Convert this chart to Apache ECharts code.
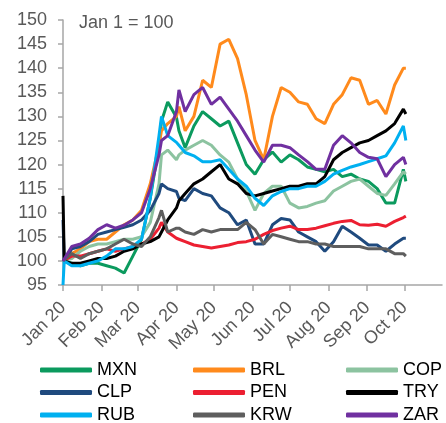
<!DOCTYPE html>
<html>
<head>
<meta charset="utf-8">
<script src="https://cdn.jsdelivr.net/npm/echarts@6/dist/echarts.min.js"></script>
<style>
  html, body { margin: 0; padding: 0; background: #fff; }
  #chart { width: 446px; height: 423px; }
</style>
</head>
<body>
<div id="chart"></div>
<script>
  // dates of the sampled points (Jan 1 = 100)
  const dates = [
    '2020-01-01', '2020-01-02',
    '2020-01-08', '2020-01-15', '2020-01-22', '2020-01-29',
    '2020-02-05', '2020-02-12', '2020-02-19', '2020-02-26',
    '2020-03-04', '2020-03-11', '2020-03-18', '2020-03-20', '2020-03-25',
    '2020-04-01', '2020-04-03', '2020-04-08', '2020-04-15', '2020-04-22', '2020-04-29',
    '2020-05-06', '2020-05-13', '2020-05-20', '2020-05-27',
    '2020-06-03', '2020-06-10', '2020-06-17', '2020-06-24',
    '2020-07-01', '2020-07-08', '2020-07-15', '2020-07-22', '2020-07-29',
    '2020-08-05', '2020-08-12', '2020-08-19', '2020-08-26',
    '2020-09-02', '2020-09-09', '2020-09-16', '2020-09-23', '2020-09-30',
    '2020-10-02'
  ]

  const mxn = [100, 100, 99.5, 99, 99.5, 99.5, 99, 98.5, 97.5, 101,
    104.5, 113, 124, 129, 133, 129.8, 127, 123.5, 128, 131, 129.5,
    128, 129, 124.5, 120, 118, 121, 122.6, 120.5,
    122, 121, 119.5, 119, 118.5, 119, 117.5, 118, 117,
    116.5, 115, 112, 112, 119, 116.5]
  const brl = [100, 100, 101.5, 102.5, 104, 104.5, 104.5, 106, 107.5, 108.5,
    110.5, 116, 124, 127, 128.5, 130, 132, 127, 130, 137.5, 136,
    145, 146, 142, 134.5, 125, 121, 130, 136,
    135, 133, 132.5, 129.5, 128.5, 132.5, 134.5, 138, 137.5,
    132.5, 133.3, 130.5, 136.5, 140, 140]
  const cop = [100, 100, 100.5, 102, 103, 103.5, 103.5, 104, 104.5, 104.5,
    105, 108, 116, 122, 123, 121, 122, 123, 124, 125, 124,
    122, 120.5, 117, 114.5, 110.5, 114, 115.5, 115.5,
    112, 111, 111.3, 112, 112.5, 114.5, 115.5, 116.5, 117,
    115.5, 114, 113.6, 116, 118.5, 118]
  const clp = [108.5, 100, 102.5, 103, 104, 105.5, 106, 106.5, 107, 107.5,
    108.5, 110.5, 114, 116, 115, 114.4, 113, 112.5, 115, 114, 113.5,
    111, 110, 107.5, 108.5, 103.5, 103.5, 107.5, 108.8,
    108.5, 106, 105, 104, 102, 104, 107.2, 106, 104.7,
    103.3, 103.3, 102, 103.5, 104.7, 104.7]
  const pen = [100, 100, 101, 101, 101.5, 102, 102.5, 102, 102.5, 103,
    103.5, 104.5, 106.8, 108, 106, 104.7, 104.5, 104, 103.3, 103, 102.7,
    103, 103.3, 103.8, 104, 104.5, 105.5, 106.3, 106.8,
    107.2, 106.5, 106.5, 106.8, 107.3, 107.8, 108.2, 108.4, 107.5,
    107.4, 107.6, 107.2, 108.2, 109, 109.3]
  const tryy = [113.5, 100, 99.5, 99.5, 100, 100.5, 100.5, 101, 102, 102.5,
    103.5, 104, 105, 106, 108.5, 111, 112.5, 114, 116, 117, 118.5,
    120, 117, 116, 114, 113.5, 114, 114.5, 115,
    115.5, 115.5, 116, 116, 117.5, 121, 122.5, 123.5, 124.5,
    125, 126, 127, 128.5, 131.5, 130.5]
  const rub = [95, 100, 99, 99, 99.5, 100, 101, 102.5, 102.5, 103,
    104.5, 113, 126, 130, 126, 124.6, 124, 122.5, 121.8, 120.6, 120.6,
    121, 119, 117, 115.5, 113, 111.5, 113.5, 114.4,
    115, 115, 115.5, 115.5, 116.5, 118, 118.8, 119.5, 120,
    120.6, 121.2, 121.8, 124.5, 128, 125]
  const krw = [100, 100, 101.5, 100.5, 101.5, 102, 102.5, 103.5, 104.5, 103.5,
    103, 105, 109, 110.5, 106, 106.8, 106.8, 106, 105.5, 106.5, 106,
    106.5, 106.5, 106.5, 108, 106.5, 103.5, 105.5, 105,
    104.5, 104, 104, 103.5, 103.5, 103, 103, 103, 103,
    102.5, 102.5, 102.5, 101.5, 101.5, 101]
  const zar = [100, 100, 103, 103.5, 104.7, 106.5, 107.5, 106.8, 107.4, 108.5,
    110, 115, 122, 125, 126, 131, 135.5, 131, 134.5, 136, 132.5,
    134, 131.5, 129, 126, 123, 120.5, 124, 124,
    123.5, 122, 120.6, 119, 119, 124, 126, 124.5, 122.5,
    121.5, 121.2, 117.5, 120, 121.5, 120]

  const names = ['MXN', 'BRL', 'COP', 'CLP', 'PEN', 'TRY', 'RUB', 'KRW', 'ZAR']
  const values = [mxn, brl, cop, clp, pen, tryy, rub, krw, zar]
  const colors = ['#0B9A5E', '#FF8A1C', '#8CC3A0', '#1F4A7E', '#EC1F31',
    '#000000', '#00B0F0', '#5E5E5E', '#7030A0']

  const months = ['Jan', 'Feb', 'Mar', 'Apr', 'May', 'Jun', 'Jul', 'Aug', 'Sep', 'Oct', 'Nov', 'Dec']
  const font = 'Liberation Sans, Arial, sans-serif'
  const axisGrey = '#A6A6A6'
  const labelGrey = '#595959'

  const chart = echarts.init(document.getElementById('chart'))

  function legendColumn(left, data) {
    return {
      left: left,
      top: 361,
      height: 90,
      orient: 'vertical',
      padding: 0,
      itemGap: 4.5,
      itemWidth: 52,
      itemHeight: 5,
      icon: 'roundRect',
      data: data,
      selectedMode: false,
      textStyle: { fontFamily: font, fontSize: 18, lineHeight: 18, color: '#000' }
    }
  }

  const option = {
    animation: false,
    color: colors,
    grid: { left: 63, right: 4, top: 20, bottom: 138 },
    graphic: [{
      type: 'text',
      left: 79,
      top: 14,
      style: { text: 'Jan 1 = 100', fontFamily: font, fontSize: 18, fill: labelGrey }
    }],
    legend: [
      legendColumn(40, ['MXN', 'CLP', 'RUB']),
      legendColumn(193, ['BRL', 'PEN', 'KRW']),
      legendColumn(346, ['COP', 'TRY', 'ZAR'])
    ],
    xAxis: {
      type: 'time',
      min: '2020-01-01',
      max: '2020-10-31',
      splitNumber: 10,
      minInterval: 28 * 86400000,
      maxInterval: 31 * 86400000,
      axisLine: { lineStyle: { color: axisGrey, width: 1.5 } },
      axisTick: { show: true, length: 6, lineStyle: { color: axisGrey, width: 1.5 } },
      splitLine: { show: false },
      axisLabel: {
        rotate: 45,
        margin: 20,
        fontFamily: font,
        fontSize: 18,
        color: labelGrey,
        formatter: function (v) {
          const d = new Date(v)
          return months[d.getMonth()] + ' ' + String(d.getFullYear()).slice(2)
        }
      }
    },
    yAxis: {
      type: 'value',
      min: 95,
      max: 150,
      interval: 5,
      axisLine: { show: true, lineStyle: { color: axisGrey, width: 1.5 } },
      axisTick: { show: true, length: 5, lineStyle: { color: axisGrey, width: 1.5 } },
      splitLine: { show: false },
      axisLabel: { margin: 16, fontFamily: font, fontSize: 18, color: labelGrey }
    },
    series: names.map((name, i) => ({
      name: name,
      type: 'line',
      symbol: 'none',
      lineStyle: { width: 3, color: colors[i] },
      itemStyle: { color: colors[i] },
      data: dates.map((d, j) => [d, values[i][j]])
    }))
  }

  chart.setOption(option)
</script>
</body>
</html>
